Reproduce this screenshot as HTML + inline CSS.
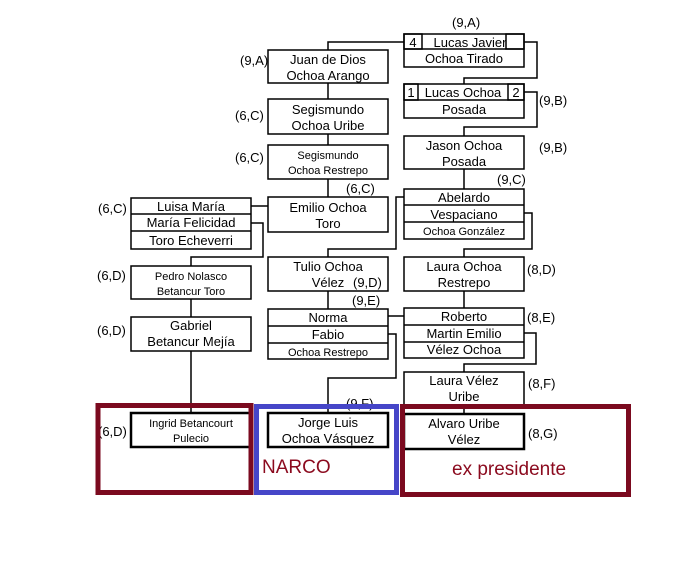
<!DOCTYPE html>
<html><head><meta charset="utf-8"><style>
html,body{margin:0;padding:0;background:#fff;}
svg{display:block;font-family:"Liberation Sans",sans-serif;}
</style></head><body>
<svg width="691" height="579" viewBox="0 0 691 579" xmlns="http://www.w3.org/2000/svg">
<g fill="none" stroke="#000" stroke-width="1.5">
<polyline points="404,42 328,42 328,50"/>
<polyline points="524,42 537,42 537,78 464,78 464,84"/>
<line x1="328" y1="83" x2="328" y2="99"/>
<line x1="328" y1="134" x2="328" y2="145"/>
<line x1="328" y1="179" x2="328" y2="197"/>
<polyline points="524,92 537,92 537,127 464,127 464,136"/>
<line x1="464" y1="169" x2="464" y2="189"/>
<polyline points="404,197 396,197 396,249 328,249 328,257"/>
<polyline points="524,213 532,213 532,249 464,249 464,257"/>
<line x1="251" y1="206" x2="268" y2="206"/>
<polyline points="251,223 263,223 263,257 191,257 191,266"/>
<line x1="191" y1="299" x2="191" y2="317"/>
<line x1="191" y1="351" x2="191" y2="413"/>
<line x1="328" y1="291" x2="328" y2="309"/>
<line x1="464" y1="291" x2="464" y2="308"/>
<line x1="388" y1="316" x2="404" y2="316"/>
<polyline points="388,334 396,334 396,378 328,378 328,413"/>
<polyline points="524,333 536,333 536,364 464,364 464,372"/>
<line x1="464" y1="404" x2="464" y2="414"/>
<rect x="404" y="34" width="120" height="33"/>
<line x1="404" y1="49" x2="524" y2="49"/>
<rect x="404" y="34" width="18" height="15"/>
<rect x="506" y="34" width="18" height="15"/>
<rect x="268" y="50" width="120" height="33"/>
<rect x="268" y="99" width="120" height="35"/>
<rect x="268" y="145" width="120" height="34"/>
<rect x="268" y="197" width="120" height="35"/>
<rect x="404" y="84" width="120" height="34"/>
<line x1="404" y1="100" x2="524" y2="100"/>
<rect x="404" y="84" width="14" height="16"/>
<rect x="508" y="84" width="16" height="16"/>
<rect x="404" y="136" width="120" height="33"/>
<rect x="404" y="189" width="120" height="50"/>
<line x1="404" y1="205" x2="524" y2="205"/>
<line x1="404" y1="222" x2="524" y2="222"/>
<rect x="131" y="198" width="120" height="51"/>
<line x1="131" y1="214" x2="251" y2="214"/>
<line x1="131" y1="231" x2="251" y2="231"/>
<rect x="131" y="266" width="120" height="33"/>
<rect x="131" y="317" width="120" height="34"/>
<rect x="268" y="257" width="120" height="34"/>
<rect x="268" y="309" width="120" height="50"/>
<line x1="268" y1="326" x2="388" y2="326"/>
<line x1="268" y1="343" x2="388" y2="343"/>
<rect x="404" y="257" width="120" height="34"/>
<rect x="404" y="308" width="120" height="50"/>
<line x1="404" y1="325" x2="524" y2="325"/>
<line x1="404" y1="342" x2="524" y2="342"/>
<rect x="404" y="372" width="120" height="33"/>
</g>
<g fill="#fff" stroke="#000" stroke-width="2.5">
<rect x="131" y="413" width="120" height="34"/>
<rect x="268" y="413" width="120" height="34"/>
<rect x="404" y="414" width="120" height="35"/>
</g>
<g font-size="13" text-anchor="middle" fill="#000">
<text x="470" y="47">Lucas Javier</text>
<text x="413" y="47">4</text>
<text x="464" y="63">Ochoa Tirado</text>
<text x="328" y="64">Juan de Dios</text>
<text x="328" y="80">Ochoa Arango</text>
<text x="328" y="114">Segismundo</text>
<text x="328" y="130">Ochoa Uribe</text>
<text x="328" y="159" font-size="11">Segismundo</text>
<text x="328" y="174" font-size="11">Ochoa Restrepo</text>
<text x="328" y="212">Emilio Ochoa</text>
<text x="328" y="228">Toro</text>
<text x="411" y="97">1</text>
<text x="463" y="97">Lucas Ochoa</text>
<text x="516" y="97">2</text>
<text x="464" y="114">Posada</text>
<text x="464" y="150">Jason Ochoa</text>
<text x="464" y="166">Posada</text>
<text x="464" y="202">Abelardo</text>
<text x="464" y="219">Vespaciano</text>
<text x="464" y="235" font-size="11">Ochoa González</text>
<text x="191" y="211">Luisa María</text>
<text x="191" y="227">María Felicidad</text>
<text x="191" y="245">Toro Echeverri</text>
<text x="191" y="280" font-size="11">Pedro Nolasco</text>
<text x="191" y="295" font-size="11">Betancur Toro</text>
<text x="191" y="330">Gabriel</text>
<text x="191" y="346">Betancur Mejía</text>
<text x="191" y="427" font-size="11">Ingrid Betancourt</text>
<text x="191" y="442" font-size="11">Pulecio</text>
<text x="328" y="271">Tulio Ochoa</text>
<text x="328" y="287">Vélez</text>
<text x="328" y="322">Norma</text>
<text x="328" y="339">Fabio</text>
<text x="328" y="356" font-size="11">Ochoa Restrepo</text>
<text x="328" y="427">Jorge Luis</text>
<text x="328" y="443">Ochoa Vásquez</text>
<text x="464" y="271">Laura Ochoa</text>
<text x="464" y="287">Restrepo</text>
<text x="464" y="321">Roberto</text>
<text x="464" y="338">Martin Emilio</text>
<text x="464" y="354">Vélez Ochoa</text>
<text x="464" y="385">Laura Vélez</text>
<text x="464" y="401">Uribe</text>
<text x="464" y="428">Alvaro Uribe</text>
<text x="464" y="444">Vélez</text>
</g>
<g font-size="13" fill="#000">
<text x="452" y="27">(9,A)</text>
<text x="240" y="65">(9,A)</text>
<text x="235" y="120">(6,C)</text>
<text x="235" y="162">(6,C)</text>
<text x="346" y="193">(6,C)</text>
<text x="539" y="105">(9,B)</text>
<text x="539" y="152">(9,B)</text>
<text x="497" y="184">(9,C)</text>
<text x="98" y="213">(6,C)</text>
<text x="97" y="280">(6,D)</text>
<text x="97" y="335">(6,D)</text>
<text x="98" y="436">(6,D)</text>
<text x="353" y="287">(9,D)</text>
<text x="352" y="305">(9,E)</text>
<text x="527" y="274">(8,D)</text>
<text x="527" y="322">(8,E)</text>
<text x="528" y="388">(8,F)</text>
<text x="346" y="408">(9,F)</text>
<text x="528" y="438">(8,G)</text>
</g>
<g fill="none" stroke-width="5">
<rect x="98" y="405.5" width="153" height="87" stroke="#7b0a1f"/>
<rect x="256.5" y="406.5" width="140" height="86" stroke="#4646c8"/>
<rect x="402.5" y="406.5" width="226" height="88" stroke="#7b0a1f"/>
</g>
<text x="262" y="473" font-size="19" fill="#8b0a1e">NARCO</text>
<text x="452" y="475" font-size="19" fill="#8b0a1e">ex presidente</text>
</svg>
</body></html>
